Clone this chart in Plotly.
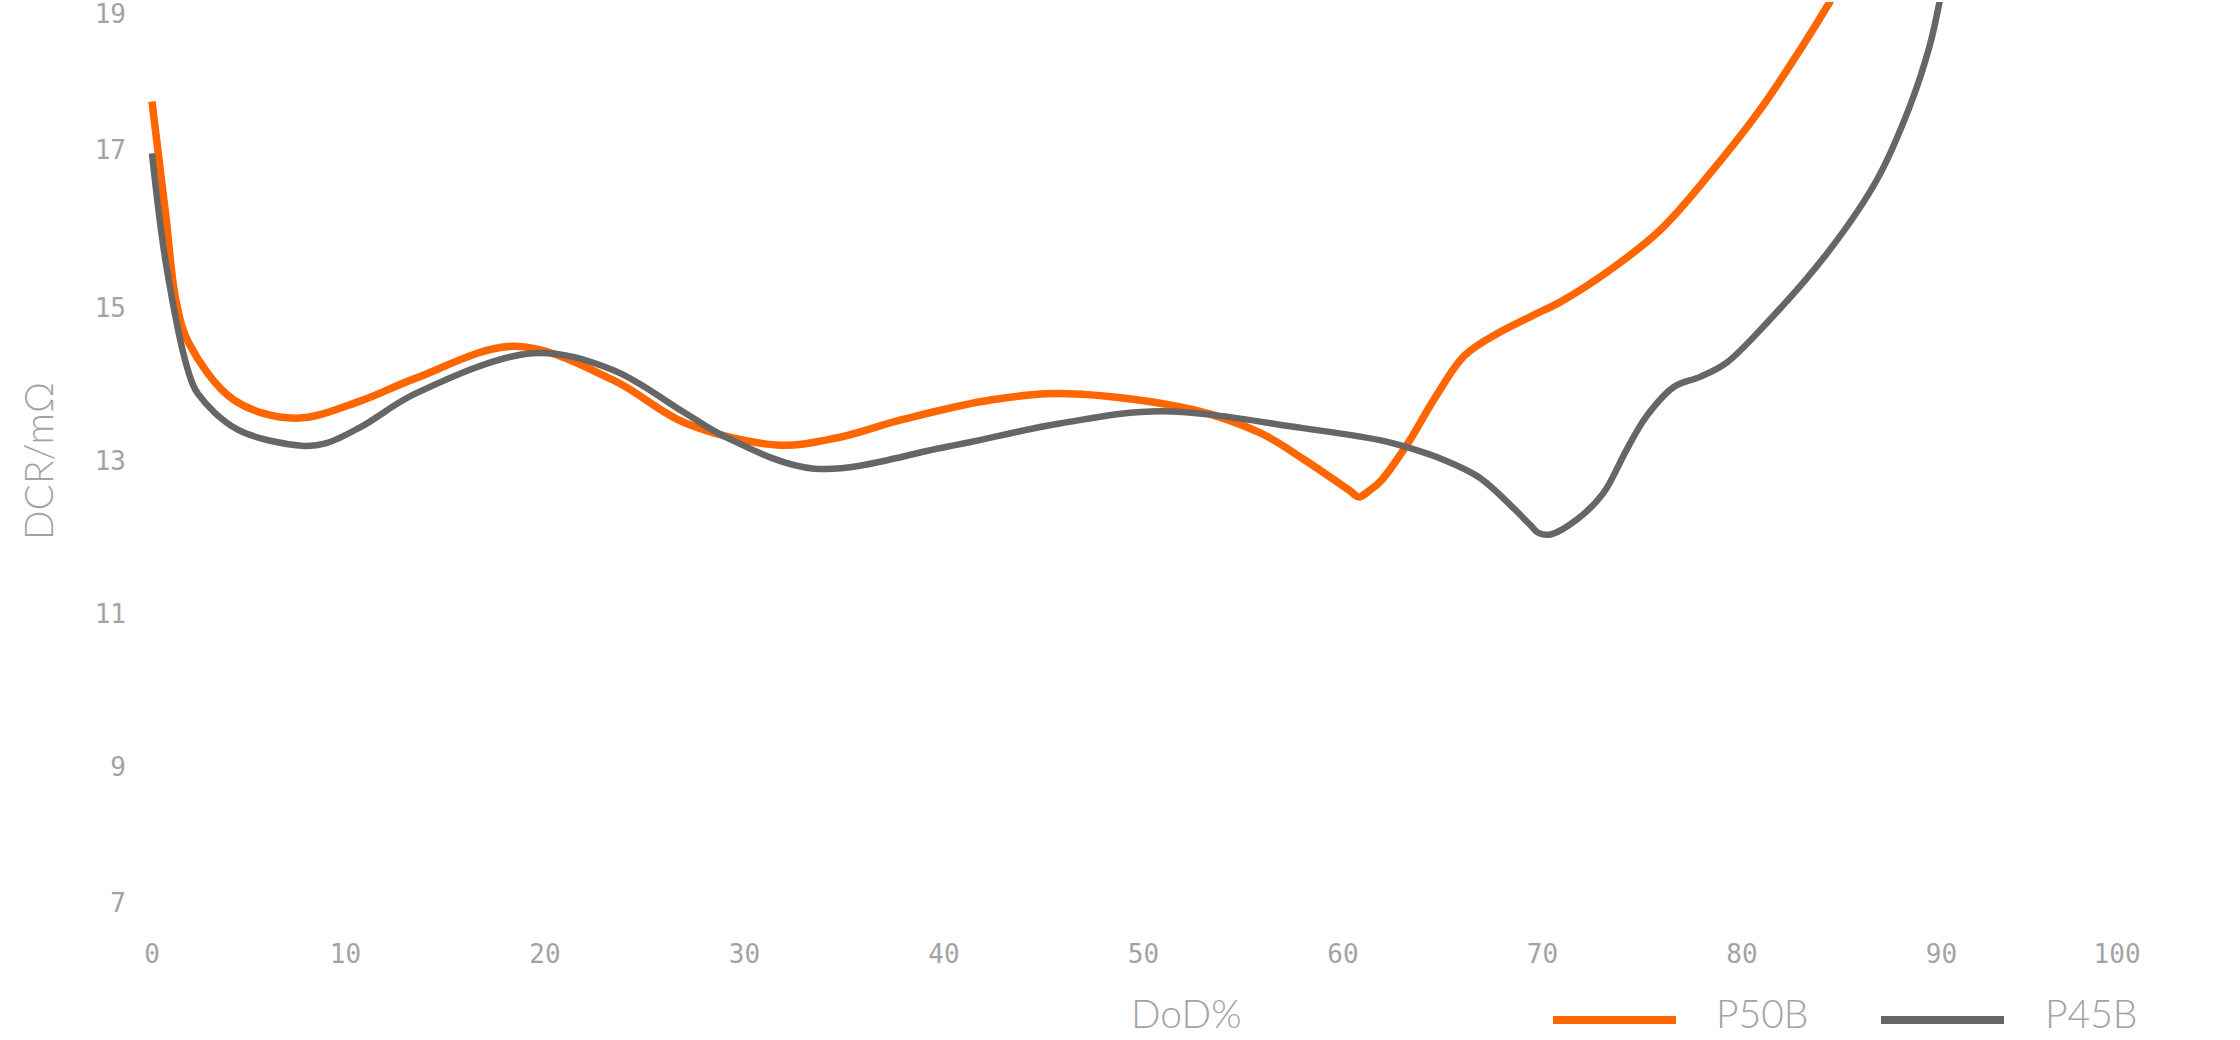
import plotly.graph_objects as go

# ---- data ----
SERIES = ["P50B", "P45B"]
COLORS = ["#FF6600", "#666666"]

DOD_P50B = [0.3, 1.0, 1.5, 2.15, 4.4, 7.5, 10.7, 13.5, 18.5, 23.4, 27.0, 31.6, 34.6,
            37.9, 42.4, 46.2, 52.5, 55.9, 58.1, 60.3, 60.8, 61.3, 61.9, 63.2, 64.6, 66.1,
            67.9, 69.5, 70.9, 73.4, 75.9, 78.4, 80.9, 82.9, 84.4, 85.5]
DCR_P50B = [17.70, 16.19, 15.10, 14.54, 13.80, 13.56, 13.78, 14.08, 14.50, 14.06, 13.50,
            13.21, 13.30, 13.54, 13.80, 13.88, 13.67, 13.36, 13.01, 12.62, 12.53, 12.61,
            12.74, 13.21, 13.82, 14.38, 14.69, 14.90, 15.08, 15.50, 16.02, 16.76, 17.59,
            18.37, 19.00, 19.50]

DOD_P45B = [0.3, 1.0, 2.1, 2.6, 4.6, 7.8, 9.0, 10.8, 13.5, 19.4, 23.4, 27.0, 29.0,
            33.5, 40.2, 45.8, 50.9, 58.0, 61.9, 63.2, 65.0, 66.8, 68.6, 69.4, 69.8, 70.4,
            71.7, 73.05, 74.2, 75.2, 76.6, 77.9, 79.2, 80.9, 84.25, 86.75, 88.4, 89.4,
            89.9, 90.3]
DCR_P45B = [17.02, 15.58, 14.19, 13.88, 13.41, 13.20, 13.23, 13.45, 13.88, 14.41,
            14.19, 13.63, 13.32, 12.90, 13.19, 13.49, 13.65, 13.43, 13.27, 13.18, 13.02,
            12.79, 12.37, 12.16, 12.06, 12.04, 12.23, 12.58, 13.14, 13.58, 13.97, 14.10,
            14.28, 14.71, 15.71, 16.67, 17.63, 18.42, 19.00, 19.55]

X_TICK_LABELS = ["0", "10", "20", "30", "40", "50", "60", "70", "80", "90", "100"]
X_TICK_POS = [0.3, 10, 20, 30, 40, 50, 60, 70, 80, 90, 98.8]
Y_TICK_LABELS = ["7", "9", "11", "13", "15", "17", "19"]
Y_TICK_POS = [7.22, 9, 11, 13, 15, 17.07, 18.84]

X_TITLE = "DoD%"
Y_TITLE = "DCR/m\u03a9"

# ---- layout geometry (pixels) ----
W, H = 2240, 1040
L, R, T, B = 146, 2141, 2, 920
TXT = "#a3a3a3"
TITLE_FONT = dict(family="Lato", size=39, color=TXT, weight=300)
TICK_FONT = dict(family="DejaVu Sans Mono", size=26, color=TXT)


def px_x(p):
    return (p - L) / (R - L)


def px_y(p):
    return (B - p) / (B - T)


fig = go.Figure()
fig.add_trace(go.Scatter(x=DOD_P50B, y=DCR_P50B, mode="lines", name=SERIES[0],
                         line=dict(color=COLORS[0], width=7.5, shape="spline", smoothing=1.0)))
fig.add_trace(go.Scatter(x=DOD_P45B, y=DCR_P45B, mode="lines", name=SERIES[1],
                         line=dict(color=COLORS[1], width=6.5, shape="spline", smoothing=1.0)))

fig.update_layout(
    width=W, height=H,
    margin=dict(l=L, r=W - R, t=T, b=H - B, pad=0),
    paper_bgcolor="white", plot_bgcolor="white",
    showlegend=False,
)
fig.update_xaxes(range=[0, 100], tickvals=X_TICK_POS, ticktext=X_TICK_LABELS,
                 showgrid=False, zeroline=False, showline=False, ticks="",
                 tickfont=TICK_FONT, ticklabelstandoff=16, automargin=False,
                 ticklabeloverflow="allow")
fig.update_yaxes(range=[7, 19], tickvals=Y_TICK_POS, ticktext=Y_TICK_LABELS,
                 showgrid=False, zeroline=False, showline=False, ticks="",
                 tickfont=TICK_FONT, ticklabelstandoff=19, automargin=False,
                 ticklabeloverflow="allow",
                 title=dict(text=Y_TITLE, font=TITLE_FONT, standoff=29))

# x-axis title
fig.add_annotation(text=X_TITLE, xref="paper", yref="paper", x=px_x(1186), y=px_y(1013),
                   xanchor="center", yanchor="middle", showarrow=False, font=TITLE_FONT)

# legend drawn with long line swatches like the reference
legend_items = [(SERIES[0], COLORS[0], 1553, 1676, 1714), (SERIES[1], COLORS[1], 1881, 2004, 2043)]
for name, col, x0, x1, tx in legend_items:
    fig.add_shape(type="line", xref="paper", yref="paper", x0=px_x(x0), x1=px_x(x1),
                  y0=px_y(1020), y1=px_y(1020), line=dict(color=col, width=8))
    fig.add_annotation(text=name, xref="paper", yref="paper", x=px_x(tx), y=px_y(1013),
                       xanchor="left", yanchor="middle", showarrow=False, font=TITLE_FONT)

fig.write_html("out.html", config={"displayModeBar": False},
               post_script="document.body.style.margin='0';document.body.style.overflow='hidden';")
